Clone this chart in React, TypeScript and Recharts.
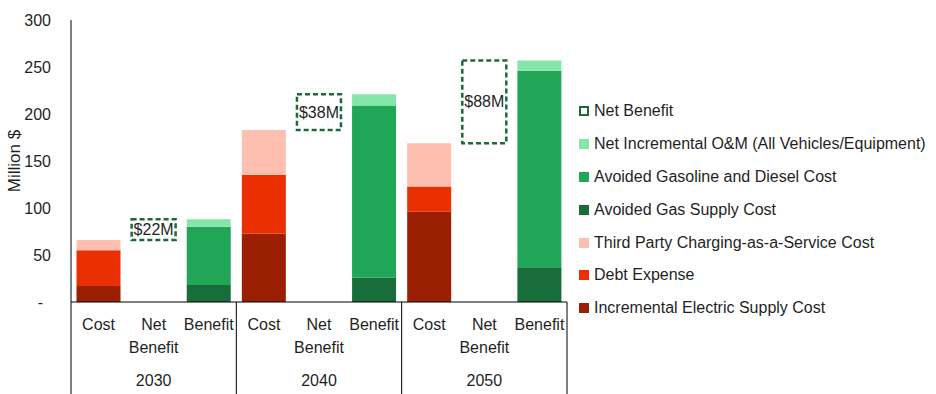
import React from "react"
import { BarChart, Bar, XAxis, YAxis } from "recharts"

const years = ["2030", "2040", "2050"]
const groupLabels = ["Cost", "Net Benefit", "Benefit"]

// cost side (million $)
const electricSupply = [17, 73, 96]
const debtExpense = [38, 62, 27]
const chargingService = [11, 48, 46]

// benefit side (million $)
const gasSupply = [18, 26, 37]
const gasolineDiesel = [62, 183, 209]
const netOM = [8, 12, 11]

const netBenefitLabels = ["$22M", "$38M", "$88M"]
const yTicks = [0, 50, 100, 150, 200, 250, 300]

const COLORS = {
  electric: "#9B1F02",
  debt: "#EA2F01",
  charging: "#FEBFB1",
  gasSupply: "#186D3B",
  gasoline: "#21A658",
  om: "#85E6AA",
  net: "#1A6B3A",
}

const FONT = "'Liberation Sans', Arial, sans-serif"
const TEXT = "#1f1f1f"

const W = 936
const H = 394
const LEFT = 71
const RIGHT = 369
const TOP = 20
const X_AXIS_H = 92
const BAND = (W - LEFT - RIGHT) / (years.length * groupLabels.length)

const chartData = years.flatMap((year, i) => {
  const costTotal = electricSupply[i] + debtExpense[i] + chargingService[i]
  const benefitTotal = gasSupply[i] + gasolineDiesel[i] + netOM[i]
  return [
    {
      key: `${year}-cost`,
      label: groupLabels[0],
      electric: electricSupply[i],
      debt: debtExpense[i],
      charging: chargingService[i],
    },
    {
      key: `${year}-net`,
      label: groupLabels[1],
      base: costTotal,
      net: benefitTotal - costTotal,
      netLabel: netBenefitLabels[i],
    },
    {
      key: `${year}-benefit`,
      label: groupLabels[2],
      gasSupply: gasSupply[i],
      gasoline: gasolineDiesel[i],
      om: netOM[i],
    },
  ]
})

const legendItems = [
  { name: "Net Benefit", color: COLORS.net, dashed: true },
  { name: "Net Incremental O&M (All Vehicles/Equipment)", color: COLORS.om },
  { name: "Avoided Gasoline and Diesel Cost", color: COLORS.gasoline },
  { name: "Avoided Gas Supply Cost", color: COLORS.gasSupply },
  { name: "Third Party Charging-as-a-Service Cost", color: COLORS.charging },
  { name: "Debt Expense", color: COLORS.debt },
  { name: "Incremental Electric Supply Cost", color: COLORS.electric },
]

function NetBox(props: any) {
  const { x, y, width, height, payload } = props
  if (!payload || payload.net == null || !height) return null
  return (
    <g>
      <rect
        x={x}
        y={y}
        width={width}
        height={height}
        fill="none"
        stroke={COLORS.net}
        strokeWidth={2.5}
        strokeDasharray="5 3"
      />
      <text
        x={x + width / 2}
        y={y + height / 2 + 5.5}
        textAnchor="middle"
        fontSize={16}
        fontFamily={FONT}
        fill={TEXT}
      >
        {payload.netLabel}
      </text>
    </g>
  )
}

function CategoryTick(props: any) {
  const { x, y, index } = props
  const row = chartData[index]
  const lines = row.label.split(" ")
  const pos = index % groupLabels.length
  return (
    <g>
      {lines.map((ln: string, i: number) => (
        <text
          key={i}
          x={x}
          y={y + 28 + i * 23}
          textAnchor="middle"
          fontSize={16}
          fontFamily={FONT}
          fill={TEXT}
        >
          {ln}
        </text>
      ))}
      {pos === 1 && (
        <text
          x={x}
          y={y + 84}
          textAnchor="middle"
          fontSize={16}
          fontFamily={FONT}
          fill={TEXT}
        >
          {years[Math.floor(index / groupLabels.length)]}
        </text>
      )}
      {pos === 0 && (
        <line x1={x - BAND / 2} x2={x - BAND / 2} y1={y} y2={H} stroke="#000" />
      )}
      {index === chartData.length - 1 && (
        <line x1={x + BAND / 2} x2={x + BAND / 2} y1={y} y2={H} stroke="#000" />
      )}
    </g>
  )
}

function ValueTick(props: any) {
  const { x, y, payload } = props
  const zero = payload.value === 0
  return (
    <text
      x={zero ? x - 8 : x}
      y={y + 5.5}
      textAnchor="end"
      fontSize={16}
      fontFamily={FONT}
      fill={TEXT}
    >
      {zero ? "-" : payload.value}
    </text>
  )
}

function Legend() {
  return (
    <div
      style={{
        position: "absolute",
        left: 579,
        top: 95,
        fontFamily: FONT,
        fontSize: 16,
        color: TEXT,
      }}
    >
      {legendItems.map((item) => (
        <div
          key={item.name}
          style={{ height: 32.8, display: "flex", alignItems: "center", whiteSpace: "nowrap" }}
        >
          <span
            style={{
              width: 10,
              height: 10,
              boxSizing: "border-box",
              marginRight: 5,
              background: item.dashed ? "transparent" : item.color,
              border: item.dashed ? `2px dashed ${item.color}` : "none",
              display: "inline-block",
            }}
          />
          {item.name}
        </div>
      ))}
    </div>
  )
}

export default function App() {
  return (
    <div style={{ position: "absolute", left: 0, top: 0, width: W, height: H, background: "#fff" }}>
      <BarChart
        width={W}
        height={H}
        data={chartData}
        margin={{ top: TOP, right: RIGHT, left: 0, bottom: 0 }}
        barCategoryGap="10%"
      >
        <XAxis
          dataKey="key"
          height={X_AXIS_H}
          interval={0}
          tickSize={0}
          tickMargin={0}
          tickLine={false}
          axisLine={{ stroke: "#000" }}
          tick={<CategoryTick />}
        />
        <YAxis
          width={LEFT}
          domain={[0, 300]}
          ticks={yTicks}
          tickSize={0}
          tickMargin={20}
          tickLine={false}
          axisLine={{ stroke: "#000" }}
          tick={<ValueTick />}
          label={{
            value: "Million $",
            angle: -90,
            position: "insideLeft",
            offset: 14,
            style: { textAnchor: "middle", fontSize: 17, fontFamily: FONT, fill: TEXT },
          }}
        />
        <Bar dataKey="electric" stackId="a" fill={COLORS.electric} isAnimationActive={false} />
        <Bar dataKey="debt" stackId="a" fill={COLORS.debt} isAnimationActive={false} />
        <Bar dataKey="charging" stackId="a" fill={COLORS.charging} isAnimationActive={false} />
        <Bar dataKey="gasSupply" stackId="a" fill={COLORS.gasSupply} isAnimationActive={false} />
        <Bar dataKey="gasoline" stackId="a" fill={COLORS.gasoline} isAnimationActive={false} />
        <Bar dataKey="om" stackId="a" fill={COLORS.om} isAnimationActive={false} />
        <Bar dataKey="base" stackId="a" fill="transparent" isAnimationActive={false} />
        <Bar dataKey="net" stackId="a" shape={<NetBox />} isAnimationActive={false} />
      </BarChart>
      <Legend />
    </div>
  )
}
